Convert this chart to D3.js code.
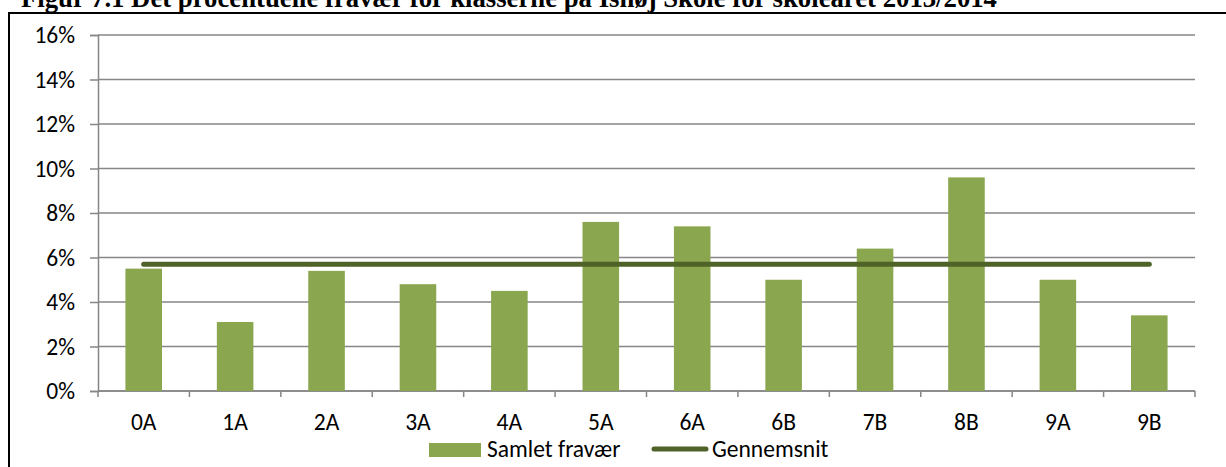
<!DOCTYPE html>
<html>
<head>
<meta charset="utf-8">
<script src="https://cdn.jsdelivr.net/npm/d3@7"></script>
<style>
    body { margin: 0; background: #fff; }
    #chart { width: 1226px; height: 467px; }
</style>
</head>
<body>
<div id="chart"></div>
<script>
// chart data
const classes = ['0A', '1A', '2A', '3A', '4A', '5A', '6A', '6B', '7B', '8B', '9A', '9B'];
const absence = [5.5, 3.1, 5.4, 4.8, 4.5, 7.6, 7.4, 5.0, 6.4, 9.6, 5.0, 3.4];
const average = [5.7, 5.7, 5.7, 5.7, 5.7, 5.7, 5.7, 5.7, 5.7, 5.7, 5.7, 5.7];
const yTicks = [0, 2, 4, 6, 8, 10, 12, 14, 16];
const titleText = 'Figur 7.1 Det procentuelle fravær for klasserne på Ishøj Skole for skoleåret 2013/2014';
const seriesNames = ['Samlet fravær', 'Gennemsnit'];

const barColor = '#8aa64e';
const lineColor = '#4f6228';
const gridColor = '#868686';
const font = 'Carlito, Lato, "Open Sans", sans-serif';
const fontSize = '23.5px';

let svg = d3.select('#chart').append('svg')
    .attr('width', 1226)
    .attr('height', 467);

// title (partly cut off at the top)
svg.append('text')
    .attr('x', 21)
    .attr('y', 7)
    .attr('font-family', '"Liberation Serif", "Times New Roman", serif')
    .attr('font-weight', 'bold')
    .attr('font-size', '26.5px')
    .attr('textLength', 976)
    .attr('lengthAdjust', 'spacingAndGlyphs')
    .attr('fill', '#000')
    .text(titleText);

// frame (top and left visible)
svg.append('path')
    .attr('d', 'M9,467 V13 H1226')
    .attr('fill', 'none')
    .attr('stroke', '#000')
    .attr('stroke-width', 2);

let margin = {left: 98, right: 1195, top: 35, bottom: 391};

let x = d3.scaleBand()
    .domain(classes)
    .range([margin.left, margin.right])
    .paddingInner(0.6)
    .paddingOuter(0.3);

let xBand = d3.scaleBand()
    .domain(classes)
    .range([margin.left, margin.right]);

let y = d3.scaleLinear()
    .domain([0, 16])
    .range([margin.bottom, margin.top]);

// gridlines
svg.append('g')
    .selectAll('line')
    .data(yTicks)
    .enter()
    .append('line')
    .attr('x1', margin.left)
    .attr('x2', margin.right)
    .attr('y1', d => y(d))
    .attr('y2', d => y(d))
    .attr('stroke', gridColor)
    .attr('stroke-width', 1.5);

// y axis
let yAxis = svg.append('g')
    .attr('transform', 'translate(' + margin.left + ',0)')
    .call(d3.axisLeft(y).tickValues(yTicks).tickSize(8).tickPadding(15).tickFormat(d => d + '%'));
yAxis.select('.domain').attr('stroke', gridColor).attr('stroke-width', 1.5);
yAxis.selectAll('.tick line').attr('stroke', gridColor).attr('stroke-width', 1.5);
yAxis.selectAll('text')
    .attr('font-family', font)
    .attr('font-size', fontSize)
    .attr('fill', '#000');

// x axis, ticks between categories
let xAxis = svg.append('g')
    .attr('transform', 'translate(0,' + margin.bottom + ')');
xAxis.append('line')
    .attr('x1', margin.left)
    .attr('x2', margin.right)
    .attr('stroke', gridColor)
    .attr('stroke-width', 1.5);
let bounds = classes.map(c => xBand(c)).concat([margin.right]);
xAxis.selectAll('.tk')
    .data(bounds)
    .enter()
    .append('line')
    .attr('x1', d => d)
    .attr('x2', d => d)
    .attr('y1', 0)
    .attr('y2', 6)
    .attr('stroke', gridColor)
    .attr('stroke-width', 1.5);
xAxis.selectAll('.lbl')
    .data(classes)
    .enter()
    .append('text')
    .attr('x', d => xBand(d) + xBand.bandwidth() / 2)
    .attr('y', 39)
    .attr('text-anchor', 'middle')
    .attr('font-family', font)
    .attr('font-size', fontSize)
    .attr('fill', '#000')
    .text(d => d);

// bars
svg.append('g')
    .selectAll('rect')
    .data(classes)
    .enter()
    .append('rect')
    .attr('x', d => x(d))
    .attr('y', (d, i) => y(absence[i]))
    .attr('width', x.bandwidth())
    .attr('height', (d, i) => y(0) - y(absence[i]))
    .attr('fill', barColor);

// average line
let line = d3.line()
    .x((d, i) => xBand(classes[i]) + xBand.bandwidth() / 2)
    .y(d => y(d));
svg.append('path')
    .datum(average)
    .attr('d', line)
    .attr('fill', 'none')
    .attr('stroke', lineColor)
    .attr('stroke-width', 5)
    .attr('stroke-linecap', 'round');

// legend
let legend = svg.append('g');
legend.append('rect')
    .attr('x', 429)
    .attr('y', 443)
    .attr('width', 52)
    .attr('height', 14)
    .attr('fill', barColor);
legend.append('text')
    .attr('x', 487)
    .attr('y', 457)
    .attr('font-family', font)
    .attr('font-size', fontSize)
    .attr('fill', '#000')
    .text(seriesNames[0]);
legend.append('line')
    .attr('x1', 654)
    .attr('x2', 706)
    .attr('y1', 449)
    .attr('y2', 449)
    .attr('stroke', lineColor)
    .attr('stroke-width', 5)
    .attr('stroke-linecap', 'round');
legend.append('text')
    .attr('x', 712)
    .attr('y', 457)
    .attr('font-family', font)
    .attr('font-size', fontSize)
    .attr('fill', '#000')
    .text(seriesNames[1]);
</script>
</body>
</html>
